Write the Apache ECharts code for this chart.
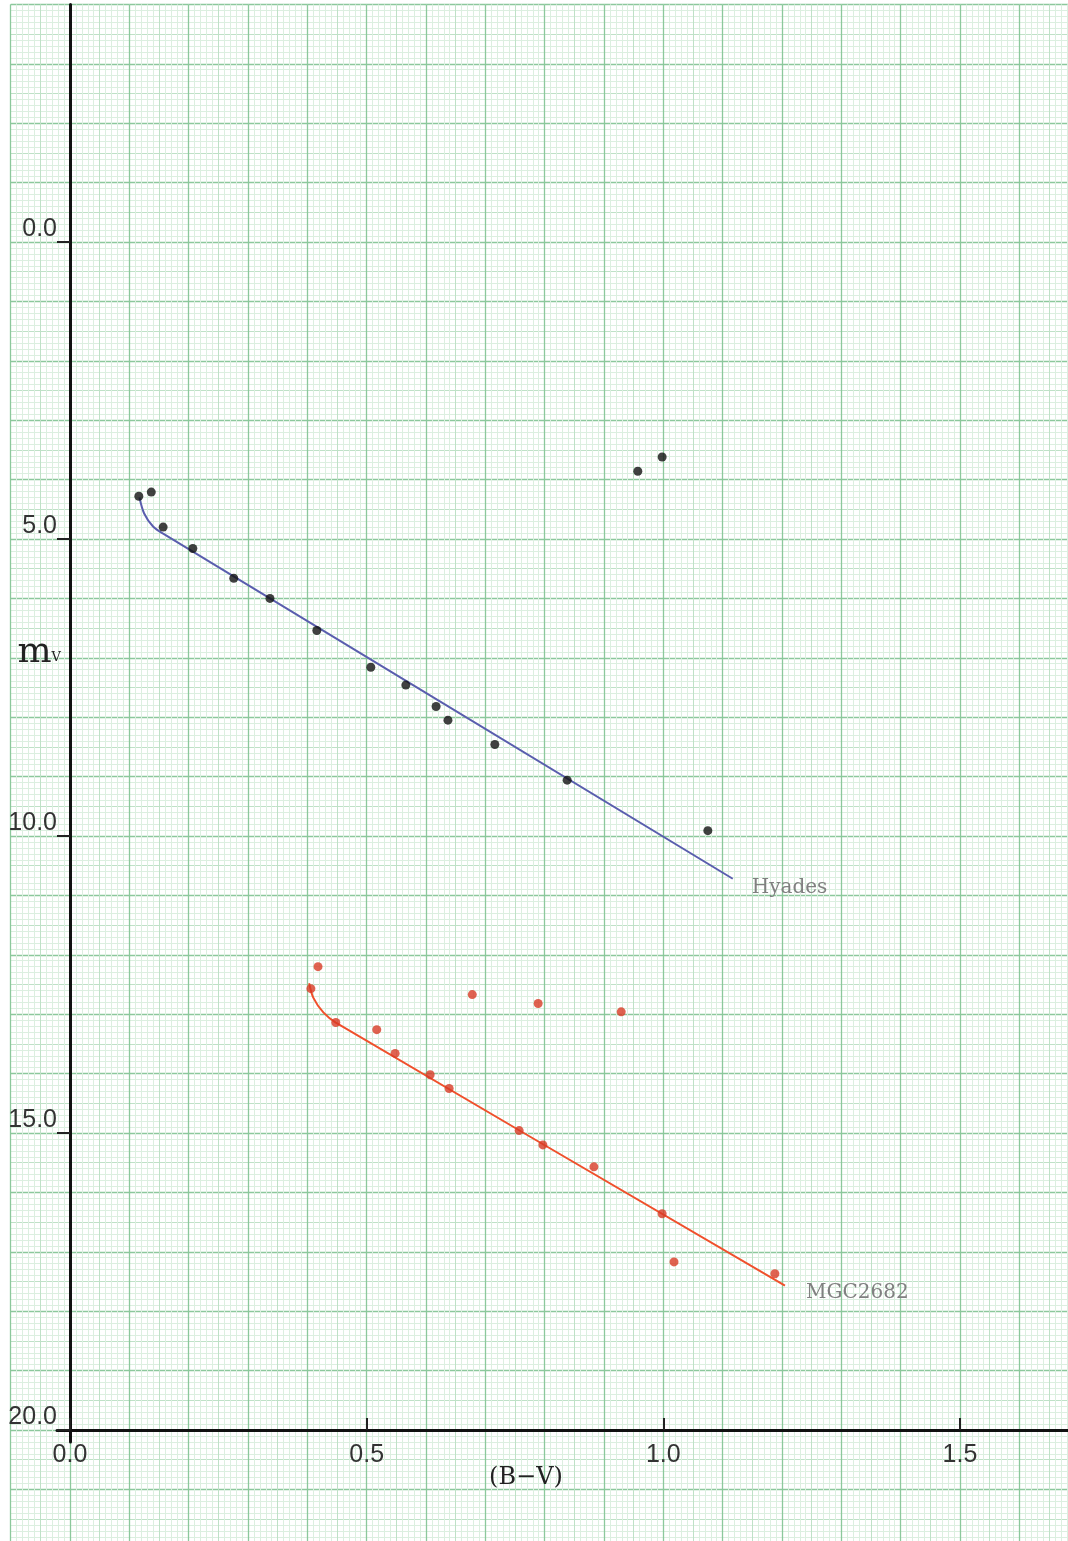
<!DOCTYPE html>
<html><head><meta charset="utf-8">
<script src="https://cdn.jsdelivr.net/npm/echarts@6/dist/echarts.min.js"></script>
<style>html,body{margin:0;padding:0;background:#fff}#c{width:1068px;height:1541px}</style>
</head><body><div id="c"></div>
<script>
// Hyades observed stars (B-V, m_V)
const hyadesBV = [0.116,0.137,0.157,0.207,0.276,0.337,0.416,0.507,0.566,0.617,0.637,0.716,0.838,1.075,0.957,0.998];
const hyadesMv = [4.28,4.21,4.80,5.16,5.66,6.00,6.54,7.16,7.46,7.82,8.05,8.46,9.06,9.91,3.86,3.62];
// Hyades main-sequence curve
const hyadesFitBV = [0.117,0.125,0.140,0.157,1.117];
const hyadesFitMv = [4.30,4.57,4.79,4.91,10.72];
// MGC2682 observed stars
const ngcBV = [0.418,0.406,0.448,0.517,0.548,0.607,0.639,0.678,0.789,0.929,0.757,0.797,0.883,0.998,1.018,1.188];
const ngcMv = [12.20,12.57,13.14,13.26,13.66,14.02,14.25,12.67,12.82,12.96,14.96,15.20,15.57,16.36,17.17,17.37];
// MGC2682 main-sequence curve
const ngcFitBV = [0.403,0.410,0.427,0.448,1.205];
const ngcFitMv = [12.48,12.72,12.97,13.14,17.57];
// tick labels
const xTicks = [0, 0.5, 1.0, 1.5];
const yTicks = [0, 5, 10, 15, 20];
const seriesNames = ['Hyades', 'MGC2682'];

const pairs = (xs, ys) => xs.map((x, i) => [x, ys[i]]);

const PX = 593.33, PY = 59.4;
const X0 = 70, Y0 = 242;

const chart = echarts.init(document.getElementById('c'), null, {renderer: 'canvas'});

const hidden = {axisLine:{show:false}, axisTick:{show:false}, axisLabel:{show:false}};
const minorC = '#dcefe0', medC = '#bfe1c7', majC = '#8cc89c';

const sans = 'Liberation Sans';
const serif = 'DejaVu Serif';

const option = {
  animation: false,
  backgroundColor: '#fff',
  grid: [
    {left: X0 - 0.1*PX, top: Y0 - 4*PY, width: 1.8*PX, height: 26*PY, containLabel:false, outerBoundsMode:'none'},
    {left: 57, top: Y0 - 4*PY, right: 0, height: 1442 - (Y0 - 4*PY), containLabel:false, outerBoundsMode:'none'}
  ],
  xAxis: [
    Object.assign({gridIndex:0, type:'value', min:-0.1, max:1.7, interval:0.05, z:0,
      splitLine:{show:true, lineStyle:{color:medC, width:1}},
      minorTick:{show:false, splitNumber:5},
      minorSplitLine:{show:true, lineStyle:{color:minorC, width:1}}}, hidden),
    Object.assign({gridIndex:0, type:'value', min:-0.1, max:1.7, interval:0.1, z:0,
      splitLine:{show:true, lineStyle:{color:majC, width:1.3}}}, hidden),
    {gridIndex:1, type:'value', min:(57 - X0)/PX, max:(1068 - X0)/PX, z:3,
      axisLine:{show:true, onZero:true, onZeroAxisIndex:4, lineStyle:{color:'#111', width:3}},
      axisTick:{show:true, inside:true, length:12, customValues:xTicks, lineStyle:{color:'#222', width:2}},
      axisLabel:{show:true, customValues:xTicks, margin:1, fontSize:25, fontFamily:sans, color:'#333',
        formatter: v => v.toFixed(1)},
      splitLine:{show:false},
      name:'(B\u2212V)', nameLocation:'middle', nameGap:24, nameMoveOverlap:false,
      nameTextStyle:{fontFamily:serif, fontSize:24, color:'#222', padding:[0,73,0,0]}}
  ],
  yAxis: [
    Object.assign({gridIndex:0, type:'value', inverse:true, min:-4, max:22, interval:0.5, z:0,
      splitLine:{show:true, lineStyle:{color:medC, width:1}},
      minorTick:{show:false, splitNumber:5},
      minorSplitLine:{show:true, lineStyle:{color:minorC, width:1}}}, hidden),
    Object.assign({gridIndex:0, type:'value', inverse:true, min:-4, max:22, interval:1, z:0,
      splitLine:{show:true, lineStyle:{color:majC, width:1.3}}}, hidden),
    {gridIndex:1, type:'value', inverse:true, min:-4, max:-4 + (1442 - (Y0 - 4*PY))/PY, z:3,
      axisLine:{show:true, onZero:true, onZeroAxisIndex:2, lineStyle:{color:'#111', width:3}},
      axisTick:{show:true, inside:false, length:13, customValues:yTicks, lineStyle:{color:'#222', width:2}},
      axisLabel:{show:true, customValues:yTicks, margin:0, fontSize:25, fontFamily:sans, color:'#333',
        verticalAlign:'bottom', formatter: v => v.toFixed(1)},
      splitLine:{show:false},
      name:'{m|m}{v|V}', nameLocation:'middle', nameGap:-4, nameRotate:0, nameMoveOverlap:false,
      nameTextStyle:{align:'right', verticalAlign:'middle', padding:[0,0,142,0],
        rich:{m:{fontFamily:serif, fontSize:36, color:'#222'},
              v:{fontFamily:serif, fontSize:13, color:'#222', verticalAlign:'bottom', padding:[0,0,6,0]}}}},
    Object.assign({gridIndex:1, type:'value', inverse:true, min:-4, max:-4 + (1442 - (Y0 - 4*PY))/PY, z:3,
      splitLine:{show:false}}, hidden, {
      axisLine:{show:false, onZero:true, onZeroAxisIndex:2},
      axisTick:{show:true, inside:true, length:10, customValues:yTicks, lineStyle:{color:'#222', width:2}}}),
    Object.assign({gridIndex:1, type:'value', inverse:true, min:-24, max:-24 + (1442 - (Y0 - 4*PY))/PY, z:0,
      splitLine:{show:false}}, hidden)
  ],
  series: [
    {name: seriesNames[0] + ' curve', type:'line', xAxisIndex:2, yAxisIndex:2, smooth:0.3,
      showSymbol:false, symbol:'none', data: pairs(hyadesFitBV, hyadesFitMv), z:4,
      lineStyle:{color:'#5a5eae', width:2},
      endLabel:{show:true, formatter: seriesNames[0], distance:19, offset:[0,9],
        fontFamily:serif, fontSize:20, color:'#808080'}},
    {name: seriesNames[0], type:'scatter', xAxisIndex:2, yAxisIndex:2, symbolSize:9, z:5,
      itemStyle:{color:'#111'}, data: pairs(hyadesBV, hyadesMv)},
    {name: seriesNames[1] + ' curve', type:'line', xAxisIndex:2, yAxisIndex:2, smooth:0.3,
      showSymbol:false, symbol:'none', data: pairs(ngcFitBV, ngcFitMv), z:4,
      lineStyle:{color:'#f0502c', width:2},
      endLabel:{show:true, formatter: seriesNames[1], distance:21, offset:[0,7],
        fontFamily:serif, fontSize:20, color:'#808080'}},
    {name: seriesNames[1], type:'scatter', xAxisIndex:2, yAxisIndex:2, symbolSize:9, z:5,
      itemStyle:{color:'#d83b26'}, data: pairs(ngcBV, ngcMv)}
  ]
};
chart.setOption(option);
</script>
</body></html>
